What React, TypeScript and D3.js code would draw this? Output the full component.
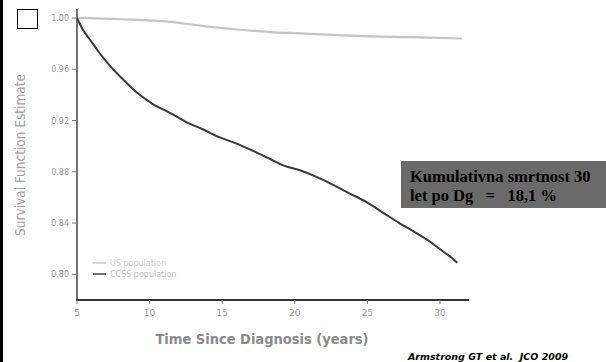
import React from "react";
import * as d3 from "d3";

const yearsCCSS = [5, 5.4, 5.9, 6.4, 6.8, 7.4, 8.0, 9.1, 10.2, 11.4, 12.5, 13.7, 14.8, 16.0, 17.0, 18.3, 19.2, 20.4, 21.5, 22.6, 23.8, 25.0, 26.1, 27.2, 28.4, 29.5, 30.2, 30.8, 31.2];
const survivalCCSS = [1.0, 0.991, 0.983, 0.975, 0.969, 0.961, 0.954, 0.942, 0.933, 0.926, 0.919, 0.913, 0.907, 0.902, 0.897, 0.89, 0.885, 0.881, 0.876, 0.87, 0.863, 0.856, 0.848, 0.84, 0.832, 0.824, 0.818, 0.813, 0.809];

const yearsPop = [5, 8, 11.4, 13.5, 16, 18.3, 20.4, 24.3, 28, 31.5];
const survivalPop = [1.0, 0.999, 0.997, 0.994, 0.991, 0.989, 0.988, 0.986, 0.985, 0.984];

const xTicks = [5, 10, 15, 20, 25, 30];
const yTicks = [1.0, 0.96, 0.92, 0.88, 0.84, 0.8];
const yTickLabels = ["1.00", "0.96", "0.92", "0.88", "0.84", "0.80"];
const legendLabels = ["US population", "CCSS population"];

export default function App() {
  const x = d3.scaleLinear().domain([5, 32]).range([77, 469]);
  const y = d3.scaleLinear().domain([0.78, 1.007]).range([300, 9]);

  const lineGen = (xs: number[], ys: number[]) =>
    d3
      .line<number>()
      .x((_, i) => x(xs[i]))
      .y((d) => y(d))
      .curve(d3.curveMonotoneX)(ys) || "";

  const pre = { whiteSpace: "pre" as const };

  return (
    <svg
      width={606}
      height={362}
      style={{ position: "absolute", left: 0, top: 0, background: "#fff" }}
      fontFamily="'DejaVu Sans', sans-serif"
    >
      <rect x={0} y={0} width={606} height={362} fill="#fff" />
      {/* left black border */}
      <rect x={0} y={0} width={3} height={362} fill="#000" />
      {/* small square */}
      <rect x={17.5} y={9.5} width={20} height={19} fill="#fff" stroke="#000" strokeWidth={1} />

      {/* population line */}
      <path d={lineGen(yearsPop, survivalPop)} fill="none" stroke="#c4c4c4" strokeWidth={2.2} />
      {/* CCSS line */}
      <path d={lineGen(yearsCCSS, survivalCCSS)} fill="none" stroke="#3a3a3a" strokeWidth={2} />

      {/* axes */}
      <line x1={x(5)} x2={x(5)} y1={9} y2={301} stroke="#444" strokeWidth={1.5} />
      <line x1={x(5) - 1} x2={x(32)} y1={300} y2={300} stroke="#333" strokeWidth={2} />
      {yTicks.map((t, i) => (
        <g key={"y" + i}>
          <line x1={x(5) - 5} x2={x(5)} y1={y(t)} y2={y(t)} stroke="#777" strokeWidth={1} />
          <text x={x(5) - 8} y={y(t) + 3} fontSize={8} fill="#9a9a9a" textAnchor="end">
            {yTickLabels[i]}
          </text>
        </g>
      ))}
      {xTicks.map((t, i) => (
        <g key={"x" + i}>
          <line x1={x(t)} x2={x(t)} y1={300} y2={304} stroke="#777" strokeWidth={1} />
          <text x={x(t)} y={316} fontSize={9} fill="#9a9a9a" textAnchor="middle">
            {t}
          </text>
        </g>
      ))}

      {/* axis titles */}
      <text
        x={262}
        y={344}
        fontSize={14.5}
        fill="#8a8a8a"
        textAnchor="middle"
        fontFamily="'DejaVu Sans Condensed', 'DejaVu Sans', sans-serif"
        fontWeight="bold"
      >
        Time Since Diagnosis (years)
      </text>
      <text
        transform={`translate(25,155) rotate(-90)`}
        fontSize={13.5}
        fill="#a0a0a0"
        textAnchor="middle"
        fontFamily="'DejaVu Sans Condensed', 'DejaVu Sans', sans-serif"
      >
        Survival Function Estimate
      </text>

      {/* legend */}
      <line x1={93} x2={106} y1={263} y2={263} stroke="#c8c8c8" strokeWidth={1.5} />
      <text x={110} y={266} fontSize={8} fill="#cfcfcf">
        {legendLabels[0]}
      </text>
      <line x1={93} x2={106} y1={274} y2={274} stroke="#444" strokeWidth={1.5} />
      <text x={110} y={277} fontSize={8} fill="#c0c0c0">
        {legendLabels[1]}
      </text>

      {/* annotation box */}
      <rect x={401} y={161} width={205} height={47} fill="#6a6a6a" />
      <text x={410} y={182} fontSize={16.5} fontWeight="bold" fill="#000" fontFamily="'Liberation Serif', serif" style={pre}>
        Kumulativna smrtnost 30
      </text>
      <text x={410} y={201} fontSize={16.5} fontWeight="bold" fill="#000" fontFamily="'Liberation Serif', serif" style={pre}>
        {"let po Dg   =   18,1 %"}
      </text>

      {/* citation */}
      <text x={408} y={360} fontSize={9.5} fontWeight="bold" fontStyle="italic" fill="#000" style={pre}>
        {"Armstrong GT et al.  JCO 2009"}
      </text>
    </svg>
  );
}
